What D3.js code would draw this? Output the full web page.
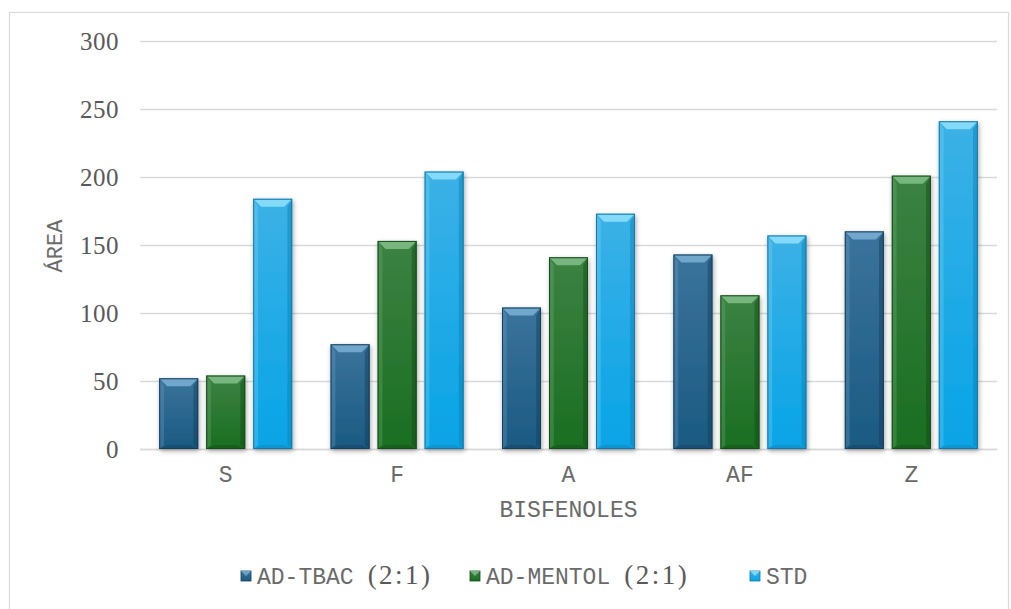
<!DOCTYPE html>
<html>
<head>
<meta charset="utf-8">
<script src="https://cdn.jsdelivr.net/npm/d3@7"></script>
<style>
  html, body { margin: 0; padding: 0; background: #fff; }
  svg { display: block; }
</style>
</head>
<body>
<svg id="chart" width="1011" height="609"></svg>
<script>
const categories = ["S", "F", "A", "AF", "Z"];
const seriesNames = ["AD-TBAC", "AD-MENTOL", "STD"];
const seriesSuffix = ["(2:1)", "(2:1)", ""];
const tbac = [52, 77, 104, 143, 160];
const mentol = [54, 153, 141, 113, 201];
const std = [184, 204, 173, 157, 241];
const yTicks = [0, 50, 100, 150, 200, 250, 300];
const xTitle = "BISFENOLES";
const yTitle = "ÁREA";

const series = [tbac, mentol, std];
const palettes = [
  { top: "#3a739b", bottom: "#1b5a82", light: "#7db0d6", dark: "#123f5c", edge: "#173f5a" },
  { top: "#3c8243", bottom: "#1a6e22", light: "#83c089", dark: "#0f4a15", edge: "#154a1a" },
  { top: "#3cb1e6", bottom: "#07a4e6", light: "#92e2fb", dark: "#0a7fb4", edge: "#1478a6" }
];

const svg = d3.select("#chart");
const plotL = 140, plotR = 997, plotT = 41, plotB = 449;
const mono = "'Liberation Mono', 'Courier New', monospace";
const serif = "'Liberation Serif', 'Times New Roman', serif";

// outer frame
svg.append("rect").attr("x", 9.5).attr("y", 12.5).attr("width", 999).attr("height", 600)
  .attr("fill", "none").attr("stroke", "#d9d9d9").attr("stroke-width", 1.2);

const x0 = d3.scaleBand().domain(categories).range([plotL, plotR]).padding(0);
const x1 = d3.scaleBand().domain(d3.range(3)).range([19.2, 152.2]).paddingInner(0.17).paddingOuter(0);
const y = d3.scaleLinear().domain([0, 300]).range([plotB, plotT]);

const defs = svg.append("defs");
palettes.forEach((p, i) => {
  const g = defs.append("linearGradient").attr("id", "g" + i).attr("x1", 0).attr("y1", 0).attr("x2", 0).attr("y2", 1);
  g.append("stop").attr("offset", "0%").attr("stop-color", p.top);
  g.append("stop").attr("offset", "100%").attr("stop-color", p.bottom);
});
const f = defs.append("filter").attr("id", "shadow").attr("x", "-20%").attr("y", "-20%").attr("width", "150%").attr("height", "150%");
f.append("feGaussianBlur").attr("in", "SourceAlpha").attr("stdDeviation", 2.5);
f.append("feOffset").attr("dx", 1).attr("dy", 2).attr("result", "ob");
f.append("feComponentTransfer").append("feFuncA").attr("type", "linear").attr("slope", 0.35);
const fm = f.append("feMerge");
fm.append("feMergeNode");
fm.append("feMergeNode").attr("in", "SourceGraphic");

// gridlines
const yAxis = d3.axisLeft(y).tickValues(yTicks).tickSize(-(plotR - plotL)).tickPadding(21);
const ga = svg.append("g").attr("transform", `translate(${plotL},0)`).call(yAxis);
ga.select(".domain").remove();
ga.selectAll(".tick line").attr("stroke", "#d9d9d9").attr("stroke-width", 1.5);
ga.selectAll(".tick text").attr("font-family", serif)
  .attr("font-size", 25).attr("fill", "#595959").attr("letter-spacing", 0.5);

// x axis
const xAxis = d3.axisBottom(x0).tickSize(0).tickPadding(17);
const gx = svg.append("g").attr("transform", `translate(0,${plotB})`).call(xAxis);
gx.select(".domain").attr("stroke", "#d9d9d9").attr("stroke-width", 1.5);
gx.selectAll(".tick text").attr("font-family", mono)
  .attr("font-size", 23).attr("fill", "#6a6a6a");

// bars
const bev = 8;
categories.forEach((c, ci) => {
  series.forEach((s, si) => {
    const v = s[ci];
    const bx = x0(c) + x1(si);
    const bw = x1.bandwidth();
    const by = y(v);
    const bh = y(0) - y(v);
    const p = palettes[si];
    const g = svg.append("g").attr("filter", "url(#shadow)");
    g.append("rect").attr("x", bx).attr("y", by).attr("width", bw).attr("height", bh)
      .attr("fill", `url(#g${si})`);
    g.append("polygon").attr("points", [[bx, by], [bx + bw, by], [bx + bw - bev, by + bev], [bx + bev, by + bev]].join(" "))
      .attr("fill", p.light).attr("opacity", 0.85);
    g.append("polygon").attr("points", [[bx, by], [bx + bev * 0.6, by + bev], [bx + bev * 0.6, by + bh - bev * 0.5], [bx, by + bh]].join(" "))
      .attr("fill", p.light).attr("opacity", 0.25);
    g.append("polygon").attr("points", [[bx + bw, by], [bx + bw - bev * 0.6, by + bev], [bx + bw - bev * 0.6, by + bh - bev * 0.5], [bx + bw, by + bh]].join(" "))
      .attr("fill", p.dark).attr("opacity", 0.45);
    g.append("polygon").attr("points", [[bx, by + bh], [bx + bw, by + bh], [bx + bw - bev, by + bh - bev * 0.5], [bx + bev, by + bh - bev * 0.5]].join(" "))
      .attr("fill", p.dark).attr("opacity", 0.4);
    g.append("rect").attr("x", bx + 0.5).attr("y", by + 0.5).attr("width", bw - 1).attr("height", bh - 1)
      .attr("fill", "none").attr("stroke", p.edge).attr("stroke-width", 1);
  });
});

// axis titles
svg.append("text").attr("x", (plotL + plotR) / 2).attr("y", 517).attr("text-anchor", "middle")
  .attr("font-family", mono).attr("font-size", 23).attr("fill", "#6a6a6a")
  .text(xTitle);
svg.append("text").attr("transform", `translate(62,246) rotate(-90)`).attr("text-anchor", "middle")
  .attr("font-family", mono).attr("font-size", 22).attr("fill", "#6a6a6a")
  .text(yTitle);

// legend
const legendX = [241, 470, 750];
const lg = svg.append("g");
seriesNames.forEach((n, i) => {
  const p = palettes[i];
  const item = lg.append("g").attr("transform", `translate(${legendX[i]},571)`);
  item.append("rect").attr("width", 10).attr("height", 10).attr("fill", `url(#g${i})`).attr("stroke", p.edge).attr("stroke-width", 0.8);
  item.append("polygon").attr("points", "0,0 10,0 5,5").attr("fill", p.light).attr("opacity", 0.8);
  const t = item.append("text").attr("x", 16).attr("y", 13).attr("fill", "#6a6a6a");
  t.append("tspan").attr("font-family", mono).attr("font-size", 23).text(n);
  if (seriesSuffix[i]) {
    t.append("tspan").attr("dx", 14).attr("font-family", serif).attr("font-size", 27)
      .attr("letter-spacing", 2.5).attr("fill", "#595959").text(seriesSuffix[i]);
  }
});
</script>
</body>
</html>
